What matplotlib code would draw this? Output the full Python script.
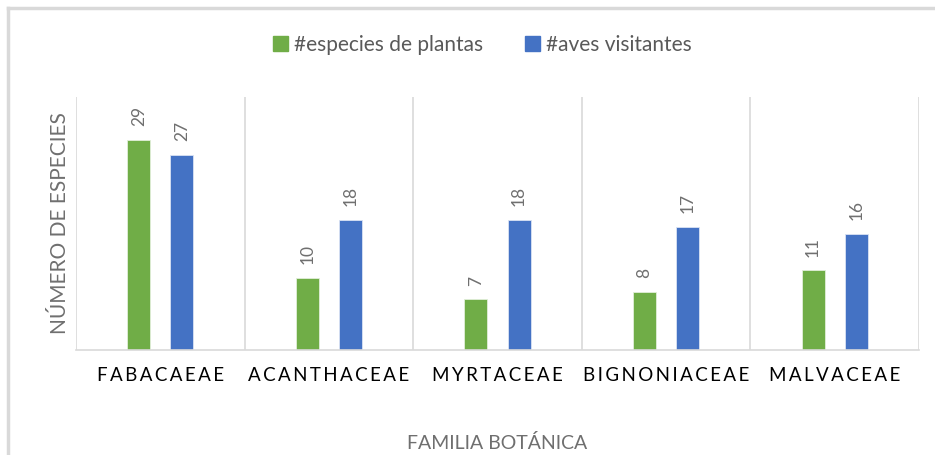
import matplotlib.pyplot as plt
import numpy as np
from matplotlib.patches import Rectangle
from matplotlib.lines import Line2D

# Data
familias = ["FABACAEAE", "ACANTHACEAE", "MYRTACEAE", "BIGNONIACEAE", "MALVACEAE"]
plantas = [29, 10, 7, 8, 11]
aves = [27, 18, 18, 17, 16]
series_names = ["#especies de plantas", "#aves visitantes"]

green = "#70ad47"
blue = "#4472c4"
grid_gray = "#d9d9d9"
text_gray = "#6f6f6f"

plt.rcParams['font.family'] = ['Lato', 'DejaVu Sans']

fig = plt.figure(figsize=(9.35, 4.55), dpi=100)
ax = fig.add_axes([76 / 935, 1 - 350 / 455, (919 - 76) / 935, (350 - 97) / 455])

x = np.arange(len(familias))
width = 0.136
off = 0.128
bars1 = ax.bar(x - off, plantas, width, color=green, edgecolor="#e2efda", linewidth=0.6)
bars2 = ax.bar(x + off, aves, width, color=blue, edgecolor="#dae3f3", linewidth=0.6)

for bars in (bars1, bars2):
    for b in bars:
        ax.annotate(f"{int(b.get_height())}", (b.get_x() + b.get_width() / 2, b.get_height()),
                    xytext=(0, 10), textcoords="offset points", rotation=90,
                    ha="center", va="bottom", fontsize=12.5, color=text_gray)

ax.set_xlim(-0.5, len(familias) - 0.5)
ax.set_ylim(0, 35)

# category boundaries as vertical grid lines
for b in np.arange(-0.5, len(familias), 1):
    ax.axvline(b, color=grid_gray, linewidth=1.2, zorder=0)

for s in ax.spines.values():
    s.set_visible(False)
ax.spines['bottom'].set_visible(True)
ax.spines['bottom'].set_color(grid_gray)
ax.spines['bottom'].set_linewidth(1.2)

ax.set_yticks([])
ax.set_xticks(x)
ax.set_xticklabels(["\u2009".join(f) for f in familias], fontsize=13.5, color="black")
ax.tick_params(axis="x", length=0, pad=12)

ax.set_ylabel("NÚMERO DE ESPECIES", fontsize=15, color=text_gray, labelpad=4)
ax.set_xlabel("FAMILIA BOTÁNICA", fontsize=14, color=text_gray, labelpad=36)

handles = [Rectangle((0, 0), 1, 1, color=green), Rectangle((0, 0), 1, 1, color=blue)]
fig.legend(handles, series_names, loc="center", bbox_to_anchor=(0.516, 0.901), ncol=2,
           frameon=False, fontsize=15, handlelength=0.7, handleheight=0.7,
           handletextpad=0.3, columnspacing=2.0, labelcolor="#595959")

# light frame around the chart area
fig.add_artist(Line2D([8 / 935, 1], [1 - 8 / 455, 1 - 8 / 455], color=grid_gray, linewidth=2.5))
fig.add_artist(Line2D([8 / 935, 8 / 935], [0, 1 - 8 / 455], color=grid_gray, linewidth=2.5))

plt.savefig("out.png", dpi=100)
